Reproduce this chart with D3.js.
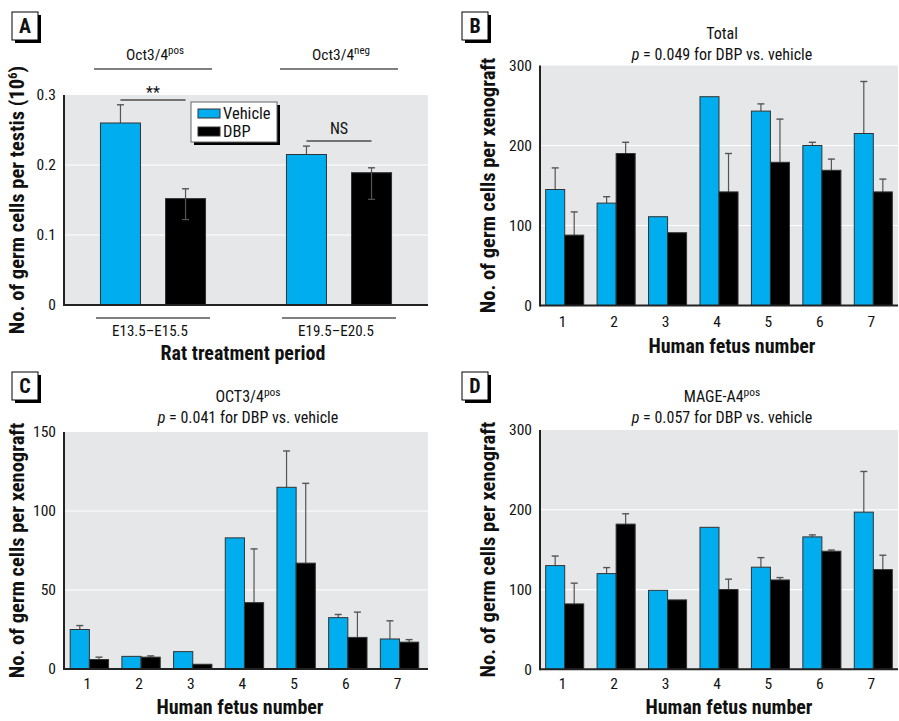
<!DOCTYPE html>
<html><head><meta charset="utf-8">
<script src="https://cdn.jsdelivr.net/npm/d3@7"></script>
<style>
body{margin:0;background:#fff}
text{font-family:"Liberation Sans Narrow","Roboto Condensed","Liberation Sans",Arial,sans-serif;fill:#111}
</style>
</head><body><svg id="c" width="899" height="721"></svg>
<script>
// ---------------- data ----------------
const seriesNames = ["Vehicle", "DBP"];

const aPeriods = ["E13.5–E15.5", "E19.5–E20.5"];
const aVehicle = [0.26, 0.215];
const aDBP = [0.152, 0.189];
const aVehicleErrHi = [0.286, 0.227];
const aDBPErrHi = [0.166, 0.196];
const aDBPErrLo = [0.122, 0.151];
const aTicks = [0, 0.1, 0.2, 0.3];
const aTickLabels = ["0", "0.1", "0.2", "0.3"];

const fetus = ["1", "2", "3", "4", "5", "6", "7"];

const bVehicle = [145, 128, 111, 261, 243, 200, 215];
const bDBP = [88, 190, 91, 142, 179, 169, 142];
const bVehicleErr = [172, 136, null, null, 252, 204, 280];
const bDBPErr = [117, 204, null, 190, 233, 183, 158];
const bTicks = [0, 100, 200, 300];

const cVehicle = [25, 8, 11, 83, 115, 32.5, 19];
const cDBP = [6, 7.5, 3, 42, 67, 20, 17];
const cVehicleErr = [27.5, null, null, null, 138, 34.5, 30.5];
const cDBPErr = [7.5, 8.3, null, 76, 117.5, 36, 18.6];
const cTicks = [0, 50, 100, 150];

const dVehicle = [130, 120, 99, 178, 128, 166, 197];
const dDBP = [82, 182, 87, 100, 112, 148, 125];
const dVehicleErr = [142, 127.5, null, null, 140, 168.5, 248];
const dDBPErr = [108, 195, null, 113, 115, 149.5, 143];
const dTicks = [0, 100, 200, 300];

// ---------------- styles ----------------
const BLUE = "#00aeef", BLACK = "#000", BG = "#e6e7e8", ERR = "#555";
const svg = d3.select("#c");

function panelLabel(x, y, letter) {
  svg.append("rect").attr("x", x + 3).attr("y", y + 3).attr("width", 26).attr("height", 28).attr("fill", "#000");
  svg.append("rect").attr("x", x).attr("y", y).attr("width", 26).attr("height", 28).attr("fill", "#fff").attr("stroke", "#000").attr("stroke-width", 1);
  svg.append("text").attr("x", x + 13).attr("y", y + 21).attr("text-anchor", "middle")
    .attr("font-weight", "bold").attr("font-size", 20).text(letter);
}

function drawPanel(o) {
  const g = svg.append("g");
  const y = d3.scaleLinear().domain([0, o.max]).range([o.yb, o.yt]);
  const x0 = d3.scaleBand().domain(o.cats).range([o.xl, o.xr])
    .paddingInner(o.pi).paddingOuter(o.po).align(o.align);
  const x1 = d3.scaleBand().domain(seriesNames).range([0, x0.bandwidth()]).paddingInner(o.inner);

  g.append("rect").attr("x", o.xl).attr("y", o.yt).attr("width", o.xr - o.xl).attr("height", o.yb - o.yt).attr("fill", BG);
  g.selectAll(".grid").data(o.ticks.filter(t => t > 0 && t < o.max)).join("line")
    .attr("x1", o.xl).attr("x2", o.xr).attr("y1", d => y(d)).attr("y2", d => y(d))
    .attr("stroke", "#fff").attr("stroke-width", 1.2);

  const ya = d3.axisLeft(y).tickValues(o.ticks).tickSize(0).tickPadding(8)
    .tickFormat((d, i) => o.tickLabels ? o.tickLabels[i] : d);
  const yg = g.append("g").attr("transform", `translate(${o.xl},0)`).call(ya);
  yg.select(".domain").remove();
  yg.selectAll("text").attr("font-size", 15.5).attr("font-family", null).attr("fill", "#111");
  g.append("line").attr("x1", o.xl).attr("x2", o.xl).attr("y1", o.yt).attr("y2", o.yb + 1).attr("stroke", "#222").attr("stroke-width", 2);

  const vals = [o.vehicle, o.dbp];
  const errHi = [o.vehicleErr, o.dbpErr];
  const errLo = [null, o.dbpErrLo];
  const cols = [BLUE, BLACK];
  seriesNames.forEach((s, si) => {
    const data = o.cats.map((c, i) => ({ c, v: vals[si][i], hi: errHi[si][i], lo: errLo[si] ? errLo[si][i] : null }));
    const eg = g.append("g");
    data.filter(d => d.hi != null).forEach(d => {
      const cx = x0(d.c) + x1(s) + x1.bandwidth() / 2;
      eg.append("line").attr("x1", cx).attr("x2", cx).attr("y1", y(d.hi)).attr("y2", y(d.v))
        .attr("stroke", ERR).attr("stroke-width", 1.2);
      eg.append("line").attr("x1", cx - 3.5).attr("x2", cx + 3.5).attr("y1", y(d.hi)).attr("y2", y(d.hi))
        .attr("stroke", ERR).attr("stroke-width", 1.4);
    });
    g.selectAll(".bar" + si).data(data).join("rect")
      .attr("x", d => x0(d.c) + x1(s)).attr("width", x1.bandwidth())
      .attr("y", d => y(d.v)).attr("height", d => y(0) - y(d.v))
      .attr("fill", cols[si]).attr("stroke", "#333").attr("stroke-width", 1);
    data.filter(d => d.lo != null).forEach(d => {
      const cx = x0(d.c) + x1(s) + x1.bandwidth() / 2;
      g.append("line").attr("x1", cx).attr("x2", cx).attr("y1", y(d.v)).attr("y2", y(d.lo))
        .attr("stroke", ERR).attr("stroke-width", 1.2);
      g.append("line").attr("x1", cx - 3.5).attr("x2", cx + 3.5).attr("y1", y(d.lo)).attr("y2", y(d.lo))
        .attr("stroke", ERR).attr("stroke-width", 1.2);
    });
  });
  g.append("line").attr("x1", o.xl).attr("x2", o.xr).attr("y1", o.yb).attr("y2", o.yb).attr("stroke", "#222").attr("stroke-width", 2);

  g.append("text").attr("transform", `translate(${o.ytx},${(o.yt + o.yb) / 2}) rotate(-90)`)
    .attr("text-anchor", "middle").attr("font-weight", "bold").attr("font-size", 20.5).each(function () {
      const t = d3.select(this);
      t.append("tspan").text(o.ytitle);
      if (o.ytitleSup) {
        t.append("tspan").attr("font-size", 13).attr("dy", -7).text(o.ytitleSup);
        t.append("tspan").attr("dy", 7).text(")");
      }
    });
  g.append("text").attr("x", o.xtx).attr("y", o.xty).attr("text-anchor", "middle")
    .attr("font-weight", "bold").attr("font-size", 20).text(o.xtitle);
  return { x0, x1, y };
}

// ---------------- Panel A ----------------
panelLabel(12, 12, "A");
const A = drawPanel({
  cats: aPeriods, vehicle: aVehicle, dbp: aDBP, vehicleErr: aVehicleErrHi, dbpErr: aDBPErrHi, dbpErrLo: aDBPErrLo,
  max: 0.3, ticks: aTicks, tickLabels: aTickLabels,
  xl: 64, xr: 428, yt: 95, yb: 305, pi: 0.435, po: 0.196, align: 0.5, inner: 0.385,
  ytx: 24, ytitle: "No. of germ cells per testis (10", ytitleSup: "6",
  xtx: 243, xty: 360, xtitle: "Rat treatment period"
});
aPeriods.forEach(p => {
  const cx = A.x0(p) + A.x0.bandwidth() / 2;
  svg.append("line").attr("x1", cx - 57).attr("x2", cx + 57).attr("y1", 318).attr("y2", 318).attr("stroke", "#000").attr("stroke-width", 1.2);
  svg.append("text").attr("x", cx - 3).attr("y", 336).attr("text-anchor", "middle").attr("font-size", 15).text(p);
});
const aHeaders = [["Oct3/4", "pos"], ["Oct3/4", "neg"]];
aPeriods.forEach((p, i) => {
  const cx = A.x0(p) + A.x0.bandwidth() / 2;
  svg.append("line").attr("x1", cx - 59).attr("x2", cx + 59).attr("y1", 69).attr("y2", 69).attr("stroke", "#000").attr("stroke-width", 1.2);
  const t = svg.append("text").attr("x", cx + 2).attr("y", 60).attr("text-anchor", "middle").attr("font-size", 15.5);
  t.append("tspan").text(aHeaders[i][0]);
  t.append("tspan").attr("font-size", 11).attr("dy", -6).text(aHeaders[i][1]);
});
const aSig = ["**", "NS"];
aPeriods.forEach((p, i) => {
  const xa = A.x0(p) + A.x1("Vehicle") + A.x1.bandwidth() / 2;
  const xb = A.x0(p) + A.x1("DBP") + A.x1.bandwidth() / 2;
  const ly = i === 0 ? 100 : 141;
  svg.append("line").attr("x1", xa).attr("x2", xb).attr("y1", ly).attr("y2", ly).attr("stroke", "#000").attr("stroke-width", 1.2);
  svg.append("text").attr("x", (xa + xb) / 2).attr("y", i === 0 ? 98 : 134).attr("text-anchor", "middle").attr("font-size", 16).text(aSig[i]);
});
(function () {
  const lx = 191, ly = 102;
  svg.append("rect").attr("x", lx + 3).attr("y", ly + 3).attr("width", 86).attr("height", 40).attr("fill", "#000");
  svg.append("rect").attr("x", lx).attr("y", ly).attr("width", 86).attr("height", 40).attr("fill", "#fff").attr("stroke", "#666");
  [BLUE, BLACK].forEach((c, i) => {
    svg.append("rect").attr("x", lx + 7).attr("y", ly + 7 + i * 18).attr("width", 22).attr("height", 9).attr("fill", c).attr("stroke", "#333");
    svg.append("text").attr("x", lx + 32).attr("y", ly + 17 + i * 18).attr("font-size", 16.5).text(seriesNames[i]);
  });
})();

// ---------------- Panel B ----------------
panelLabel(462, 12, "B");
const B = drawPanel({
  cats: fetus, vehicle: bVehicle, dbp: bDBP, vehicleErr: bVehicleErr, dbpErr: bDBPErr,
  max: 300, ticks: bTicks, xl: 540, xr: 898, yt: 65.5, yb: 305.5, pi: 0.26, po: 0.11, align: 0.5, inner: 0,
  ytx: 495, ytitle: "No. of germ cells per xenograft", xtx: 732, xty: 353, xtitle: "Human fetus number"
});
function xTickLabels(P, ty) {
  fetus.forEach(f => {
    svg.append("text").attr("x", P.x0(f) + P.x0.bandwidth() / 2 - 2).attr("y", ty).attr("text-anchor", "middle").attr("font-size", 15.5).text(f);
  });
}
xTickLabels(B, 327);
function titles(cx, y1, main, sup, p) {
  const t = svg.append("text").attr("x", cx).attr("y", y1).attr("text-anchor", "middle").attr("font-size", 16);
  t.append("tspan").text(main);
  if (sup) t.append("tspan").attr("font-size", 11.5).attr("dy", -6).text(sup);
  const t2 = svg.append("text").attr("x", cx).attr("y", y1 + 21).attr("text-anchor", "middle").attr("font-size", 16);
  t2.append("tspan").attr("font-style", "italic").text("p");
  t2.append("tspan").text(" = " + p + " for DBP vs. vehicle");
}
titles(722, 39, "Total", null, "0.049");

// ---------------- Panel C ----------------
panelLabel(12, 372, "C");
const C = drawPanel({
  cats: fetus, vehicle: cVehicle, dbp: cDBP, vehicleErr: cVehicleErr, dbpErr: cDBPErr,
  max: 150, ticks: cTicks, xl: 64, xr: 428, yt: 432, yb: 669, pi: 0.258, po: 0.15, align: 0.4, inner: 0,
  ytx: 24, ytitle: "No. of germ cells per xenograft", xtx: 240, xty: 714, xtitle: "Human fetus number"
});
xTickLabels(C, 689);
titles(248, 402, "OCT3/4", "pos", "0.041");

// ---------------- Panel D ----------------
panelLabel(462, 372, "D");
const D = drawPanel({
  cats: fetus, vehicle: dVehicle, dbp: dDBP, vehicleErr: dVehicleErr, dbpErr: dDBPErr,
  max: 300, ticks: dTicks, xl: 540, xr: 898, yt: 430, yb: 669.3, pi: 0.26, po: 0.11, align: 0.5, inner: 0,
  ytx: 495, ytitle: "No. of germ cells per xenograft", xtx: 729, xty: 714, xtitle: "Human fetus number"
});
xTickLabels(D, 689);
titles(722, 402, "MAGE-A4", "pos", "0.057");
</script>
</body></html>
